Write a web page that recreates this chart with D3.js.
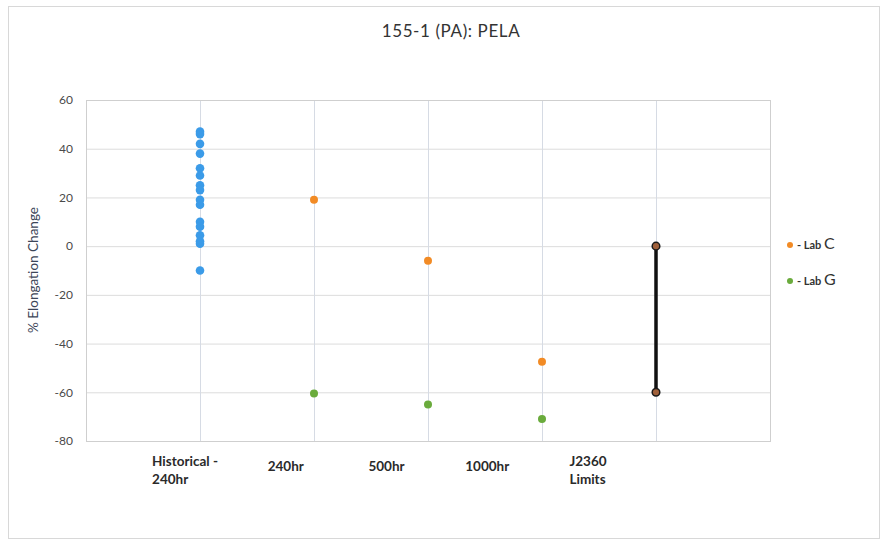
<!DOCTYPE html>
<html><head><meta charset="utf-8">
<script src="https://cdn.jsdelivr.net/npm/d3@7"></script>
<style>body{margin:0;background:#fff;} svg{display:block;font-family:Lato,"Open Sans",sans-serif;}</style>
</head><body>
<svg id="c" width="883" height="543"></svg>
<script>
const title = "155-1 (PA): PELA";
const yLabel = "% Elongation Change";
const categories = ["Historical - 240hr", "240hr", "500hr", "1000hr", "J2360 Limits"];
const categoryLines = [["Historical -", "240hr"], ["240hr"], ["500hr"], ["1000hr"], ["J2360", "Limits"]];
const yTicks = [-80, -60, -40, -20, 0, 20, 40, 60];
const historical = [47, 46, 42, 38, 32, 29, 25, 23, 19, 17, 10, 8, 4.5, 2, 1, -10];
const labC = [19, -6, -47.5];        // 240hr, 500hr, 1000hr
const labG = [-60.5, -65, -71];
const labCats = ["240hr", "500hr", "1000hr"];
const limits = [0, -60];
const legendNames = ["Lab", "Lab"];
const legendLetters = ["C", "G"];

const svg = d3.select("#c");
const m = {l: 86, r: 770, t: 100, b: 441};

// outer border
svg.append("rect").attr("x", 8.5).attr("y", 6.5).attr("width", 871).attr("height", 532)
  .attr("fill", "none").attr("stroke", "#d8d8d8");

const x = d3.scaleLinear().domain([0, 6]).range([m.l, m.r]);
const xi = c => x(categories.indexOf(c) + 1);
const y = d3.scaleLinear().domain([-80, 60]).range([m.b, m.t]);
const xLab = d3.scaleLinear().domain([0, 4]).range([185, 588]);

// horizontal grid
svg.append("g").selectAll("line").data(yTicks).join("line")
  .attr("x1", m.l).attr("x2", m.r).attr("y1", d => y(d) + 0.5).attr("y2", d => y(d) + 0.5)
  .attr("stroke", "#dcdcdc");
// vertical grid
svg.append("g").selectAll("line").data(categories).join("line")
  .attr("x1", d => xi(d) + 0.5).attr("x2", d => xi(d) + 0.5).attr("y1", m.t).attr("y2", m.b)
  .attr("stroke", "#d6dbe4");
// plot border
svg.append("rect").attr("x", m.l + 0.5).attr("y", m.t + 0.5).attr("width", m.r - m.l).attr("height", m.b - m.t)
  .attr("fill", "none").attr("stroke", "#cfcfcf");

// y axis
const ya = svg.append("g").attr("transform", `translate(${m.l},0)`)
  .call(d3.axisLeft(y).tickValues(yTicks).tickSize(0).tickPadding(13).tickFormat(d => String(d)));
ya.select(".domain").remove();
ya.selectAll("text").attr("font-size", 12).attr("fill", "#4a4a4a").attr("font-family", "Lato,sans-serif");

// x labels (lines left-aligned within a centred block)
const xl = svg.append("g").selectAll("text").data(categoryLines).join("text")
  .attr("text-anchor", "start").attr("font-size", 13.5).attr("font-weight", "bold").attr("fill", "#2a2a2a")
  .attr("transform", (d, i) => `translate(${xLab(i)},${d.length > 1 ? 466 : 471})`);
xl.selectAll("tspan").data(d => d).join("tspan").attr("dy", (d, i) => i ? 18 : 0).text(d => d);
xl.each(function() {
  const ts = d3.select(this).selectAll("tspan");
  let w = 0;
  ts.each(function() { w = Math.max(w, this.getComputedTextLength()); });
  ts.attr("x", -w / 2);
});

// title
svg.append("text").attr("x", 451).attr("y", 37).attr("text-anchor", "middle")
  .attr("font-size", 17).attr("letter-spacing", 0.6).attr("fill", "#333").text(title);
// y title
svg.append("text").attr("transform", "translate(38,270) rotate(-90)").attr("text-anchor", "middle")
  .attr("font-size", 13.5).attr("fill", "#3c4658").text(yLabel);

// historical
svg.append("g").selectAll("circle").data(historical).join("circle")
  .attr("cx", xi(categories[0])).attr("cy", d => y(d)).attr("r", 4.3).attr("fill", "#3b9be8");
// lab C and G
svg.append("g").selectAll("circle").data(labC).join("circle")
  .attr("cx", (d, i) => xi(labCats[i])).attr("cy", d => y(d)).attr("r", 4).attr("fill", "#f28b25");
svg.append("g").selectAll("circle").data(labG).join("circle")
  .attr("cx", (d, i) => xi(labCats[i])).attr("cy", d => y(d)).attr("r", 4).attr("fill", "#6aab3c");
// limits
const lx = xi(categories[4]);
svg.append("line").attr("x1", lx).attr("x2", lx).attr("y1", y(limits[0])).attr("y2", y(limits[1]))
  .attr("stroke", "#111").attr("stroke-width", 3.5);
svg.append("g").selectAll("circle").data(limits).join("circle")
  .attr("cx", lx).attr("cy", d => y(d)).attr("r", 3.8).attr("fill", "#a0603a").attr("stroke", "#1a1a1a").attr("stroke-width", 1.5);

// legend
const legColors = ["#f28b25", "#6aab3c"];
const lg = svg.append("g").selectAll("g").data(legendNames).join("g")
  .attr("transform", (d, i) => `translate(790,${245 + i * 36})`);
lg.append("circle").attr("r", 3).attr("fill", (d, i) => legColors[i]);
const lt = lg.append("text").attr("x", 7).attr("y", 4).attr("fill", "#333").attr("font-weight", "bold");
lt.append("tspan").attr("font-size", 11).text(d => "- " + d + " ");
lt.append("tspan").attr("font-size", 16).attr("font-weight", "normal").text((d, i) => legendLetters[i]);
</script>
</body></html>
